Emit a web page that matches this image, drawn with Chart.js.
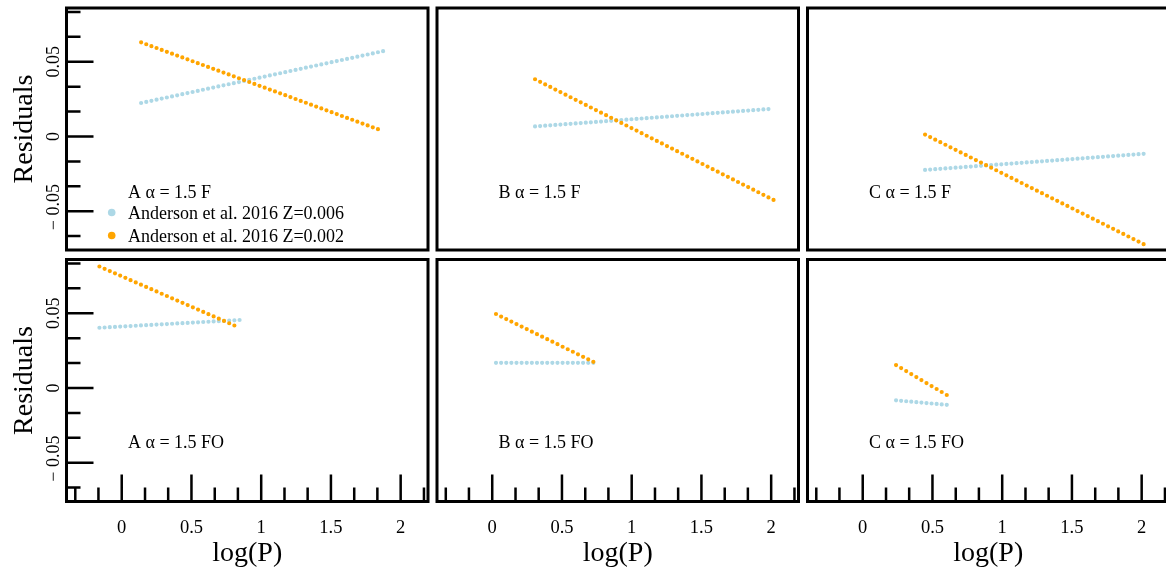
<!DOCTYPE html>
<html>
<head>
<meta charset="utf-8">
<script src="https://cdn.jsdelivr.net/npm/chart.js@4.4.1/dist/chart.umd.min.js"></script>
<style>
  html, body { margin: 0; padding: 0; background: #fff; overflow: hidden; width: 1166px; height: 574px; }
  canvas { position: absolute; left: 0; top: 0; }
</style>
</head>
<body>
<canvas id="pAF" width="1200" height="574"></canvas>
<canvas id="pBF" width="1200" height="574"></canvas>
<canvas id="pCF" width="1200" height="574"></canvas>
<canvas id="pAFO" width="1200" height="574"></canvas>
<canvas id="pBFO" width="1200" height="574"></canvas>
<canvas id="pCFO" width="1200" height="574"></canvas>
<script>
// series names
const seriesNames = ["Anderson et al. 2016 Z=0.006", "Anderson et al. 2016 Z=0.002"];

// residuals along log(P), start and end of each run
const logP_AF = [0.139, 1.874];
const z006_AF = [0.0224, 0.0571];
const z002_AF = [0.0630, 0.0036];

const logP_BF = [0.307, 2.017];
const z006_BF = [0.0067, 0.0186];
const z002_BF = [0.0383, -0.0425];

const logP_CF = [0.447, 2.014];
const z006_CF = [-0.0224, -0.0116];
const z002_CF = [0.0013, -0.0721];

const logP_AFO = [-0.160, 0.845];
const z006_AFO = [0.0403, 0.0455];
const z002_AFO = [0.0813, 0.0403];

const logP_BFO = [0.027, 0.725];
const z006_BFO = [0.0168, 0.0168];
const z002_BFO = [0.0495, 0.0175];

const logP_CFO = [0.239, 0.639];
const z006_CFO = [-0.0083, -0.0116];
const z002_CFO = [0.0153, -0.0067];

// ticks
const xMajorTicks = [0, 0.5, 1, 1.5, 2];
const xTickLabels = ["0", "0.5", "1", "1.5", "2"];
const xMinorTicks = [-0.333, -0.167, 0.167, 0.333, 0.667, 0.833, 1.167, 1.333, 1.667, 1.833, 2.167];
const yMajorTicks = [-0.05, 0, 0.05];
const yTickLabels = ["\u2212 0.05", "0", "0.05"];
const yMinorTicks = [-0.0667, -0.0333, -0.0167, 0.0167, 0.0333, 0.0667, 0.0833];

const SERIF = '"Liberation Serif", "Times New Roman", serif';
const BLUE = "#add8e6";
const ORANGE = "#ffa500";

// panel boxes on the page
const cols = [[66.5, 428], [437, 798.5], [807.5, 1169]];
const rows = [[8, 250], [259.5, 501.5]];
const CW = 1200, CH = 574;

const pts = (xs, ys) => xs.map((v, i) => ({ x: v, y: ys[i] }));

const panelDecor = {
  id: "panelDecor",
  beforeDatasetDraw(chart, args) {
    // space the dots evenly between the two end points
    const el = args.meta.dataset;
    const p = args.meta.data;
    if (!el || p.length < 2) return;
    const dx = p[1].x - p[0].x, dy = p[1].y - p[0].y;
    const len = Math.hypot(dx, dy);
    const n = Math.max(1, Math.round(Math.abs(dx) / 5.1));
    el.options.borderDash = [0, len / n];
  },
  afterDraw(chart, args, o) {
    const { ctx, chartArea: a, scales: { x, y } } = chart;
    ctx.save();
    ctx.strokeStyle = "#000";
    ctx.fillStyle = "#000";
    ctx.lineCap = "butt";
    ctx.lineWidth = 2.5;

    if (o.yAxis) {
      ctx.beginPath();
      yMinorTicks.forEach(v => {
        const py = y.getPixelForValue(v);
        ctx.moveTo(a.left, py); ctx.lineTo(a.left + 14, py);
      });
      yMajorTicks.forEach(v => {
        const py = y.getPixelForValue(v);
        ctx.moveTo(a.left, py); ctx.lineTo(a.left + 27, py);
      });
      ctx.stroke();
      ctx.font = "18px " + SERIF;
      ctx.textAlign = "center";
      ctx.textBaseline = "alphabetic";
      yMajorTicks.forEach((v, i) => {
        const py = y.getPixelForValue(v) - (v < 0 ? 4 : 0);
        ctx.save();
        ctx.translate(a.left - 7.5, py);
        ctx.rotate(-Math.PI / 2);
        ctx.fillText(yTickLabels[i], 0, 0);
        ctx.restore();
      });
      ctx.font = "28px " + SERIF;
      ctx.save();
      ctx.translate(a.left - 35, (a.top + a.bottom) / 2);
      ctx.rotate(-Math.PI / 2);
      ctx.fillText("Residuals", 0, 0);
      ctx.restore();
    }

    if (o.xAxis) {
      ctx.beginPath();
      xMinorTicks.forEach(v => {
        const px = x.getPixelForValue(v);
        ctx.moveTo(px, a.bottom); ctx.lineTo(px, a.bottom - 14);
      });
      xMajorTicks.forEach(v => {
        const px = x.getPixelForValue(v);
        ctx.moveTo(px, a.bottom); ctx.lineTo(px, a.bottom - 27);
      });
      ctx.stroke();
      ctx.font = "18.5px " + SERIF;
      ctx.textAlign = "center";
      ctx.textBaseline = "alphabetic";
      xMajorTicks.forEach((v, i) => {
        ctx.fillText(xTickLabels[i], x.getPixelForValue(v), a.bottom + 31);
      });
      ctx.font = "28px " + SERIF;
      ctx.fillText("log(P)", (a.left + a.right) / 2, a.bottom + 59);
    }

    // frame
    ctx.lineWidth = 3;
    ctx.strokeRect(a.left, a.top, a.right - a.left, a.bottom - a.top);

    // panel label
    ctx.font = "18px " + SERIF;
    ctx.textAlign = "left";
    ctx.textBaseline = "alphabetic";
    ctx.fillText(o.label, a.left + 61.5, a.top + o.labelDy);

    if (o.legend) {
      const colors = [BLUE, ORANGE];
      seriesNames.forEach((name, i) => {
        const by = a.top + o.labelDy + 20.5 + i * 23;
        ctx.fillStyle = colors[i];
        ctx.beginPath();
        ctx.arc(a.left + 45.2, by - 6, 3.8, 0, Math.PI * 2);
        ctx.fill();
        ctx.fillStyle = "#000";
        ctx.fillText(name, a.left + 61.5, by);
      });
    }
    ctx.restore();
  }
};

function makePanel(id, col, row, logP, z006, z002, label, flags) {
  const [x0, x1] = cols[col];
  const [y0, y1] = rows[row];
  new Chart(document.getElementById(id), {
    type: "scatter",
    data: {
      datasets: [
        { label: seriesNames[0], data: pts(logP, z006), order: 1 },
        { label: seriesNames[1], data: pts(logP, z002), order: 0 }
      ].map((d, i) => Object.assign(d, {
        showLine: true,
        borderColor: i === 0 ? BLUE : ORANGE,
        borderWidth: 4.2,
        borderCapStyle: "round",
        borderDash: [0, 5.4],
        pointRadius: 0,
        fill: false
      }))
    },
    options: {
      responsive: false,
      animation: false,
      events: [],
      layout: { padding: { left: x0, right: CW - x1, top: y0, bottom: CH - y1 } },
      scales: {
        x: { type: "linear", min: -0.396, max: 2.196, display: false },
        y: { type: "linear", min: -0.076, max: 0.086, display: false }
      },
      plugins: {
        legend: { display: false },
        tooltip: { enabled: false },
        panelDecor: Object.assign({ label: label, labelDy: row === 0 ? 190 : 188.5 }, flags)
      }
    },
    plugins: [panelDecor]
  });
}

makePanel("pAF", 0, 0, logP_AF, z006_AF, z002_AF, "A \u03b1 = 1.5 F", { yAxis: true, legend: true });
makePanel("pBF", 1, 0, logP_BF, z006_BF, z002_BF, "B \u03b1 = 1.5 F", {});
makePanel("pCF", 2, 0, logP_CF, z006_CF, z002_CF, "C \u03b1 = 1.5 F", {});
makePanel("pAFO", 0, 1, logP_AFO, z006_AFO, z002_AFO, "A \u03b1 = 1.5 FO", { yAxis: true, xAxis: true });
makePanel("pBFO", 1, 1, logP_BFO, z006_BFO, z002_BFO, "B \u03b1 = 1.5 FO", { xAxis: true });
makePanel("pCFO", 2, 1, logP_CFO, z006_CFO, z002_CFO, "C \u03b1 = 1.5 FO", { xAxis: true });
</script>
</body>
</html>
